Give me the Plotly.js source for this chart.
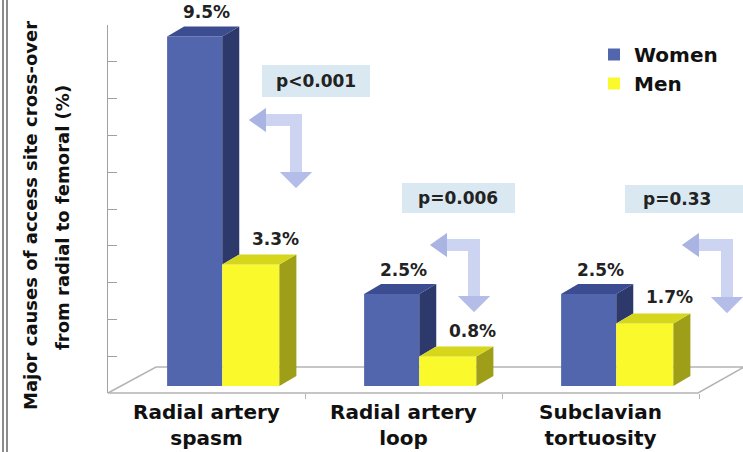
<!DOCTYPE html>
<html>
<head>
<meta charset="utf-8">
<script src="https://cdn.plot.ly/plotly-3.0.1.min.js"></script>
<style>
  html, body { margin: 0; padding: 0; background: #ffffff; }
  #chart { width: 743px; height: 452px; }
</style>
</head>
<body>
<div id="chart"></div>
<script>
// Causes of radial-to-femoral cross-over, by sex (%)
const categories = ['Radial artery<br>spasm', 'Radial artery<br>loop', 'Subclavian<br>tortuosity'];
const women = [9.5, 2.5, 2.5];
const men = [3.3, 0.8, 1.7];
const pValues = ['p&lt;0.001', 'p=0.006', 'p=0.33'];
const seriesNames = ['Women', 'Men'];
const wallTicks = [0, 1, 2, 3, 4, 5, 6, 7, 8, 9, 10];

// Plot-area geometry in pixels
const L = 108, T = 25, W = 591, H = 368, B = T + H;
const catPx = W / 3;              // pixels per category
const unitPx = 36.8;              // pixels per percentage point
const base0 = 386;                // pixel row of value 0 (bar fronts)
const wallShift = (B - base0) / unitPx;  // back wall sits lower than the bar fronts
const X = px => (px - L) / W;     // pixel -> paper
const Y = py => (B - py) / H;

// Fake 3-D extrusion (depth offset) in data units
const dx = 17 / catPx;
const dy = 10 / unitPx;

const FONT = 'DejaVu Sans';
const xs = categories.map((_, i) => i);
const wOff = -0.20, wW = 0.28;
const mOff = 0.08, mW = 0.29;

function buildFaces(list) {
  const x = [], y = [];
  list.forEach(p => { p.forEach(q => { x.push(q[0]); y.push(q[1]); }); x.push(null); y.push(null); });
  return { x, y };
}

// top faces
const womenTop = buildFaces(women.map((v, i) => {
  const x0 = i + wOff, x1 = x0 + wW;
  return [[x0, v], [x1, v], [x1 + dx, v + dy], [x0 + dx, v + dy]];
}));
const menTop = buildFaces(men.map((v, i) => {
  const x0 = i + mOff, x1 = x0 + mW;
  return [[x0, v], [x1, v], [x1 + dx, v + dy], [x0 + dx, v + dy]];
}));
// side faces (women side is hidden below the neighbouring men bar)
const womenSide = buildFaces(women.map((v, i) => {
  const x1 = i + wOff + wW, lo = Math.min(men[i], v);
  return [[x1, lo], [x1, v], [x1 + dx, v + dy], [x1 + dx, lo + dy]];
}));
const menSide = buildFaces(men.map((v, i) => {
  const x1 = i + mOff + mW;
  return [[x1, 0], [x1, v], [x1 + dx, v + dy], [x1 + dx, dy]];
}));

function face(f, color) {
  return { type: 'scatter', mode: 'lines', x: f.x, y: f.y, fill: 'toself', fillcolor: color,
           line: { width: 0 }, hoverinfo: 'skip', showlegend: false };
}

const traces = [
  { type: 'bar', name: seriesNames[0], x: xs, y: women, offset: wOff, width: wW,
    marker: { color: '#5266ae', line: { width: 0 } }, hoverinfo: 'skip' },
  { type: 'bar', name: seriesNames[1], x: xs, y: men, offset: mOff, width: mW,
    marker: { color: '#f9f92b', line: { width: 0 } }, hoverinfo: 'skip' },
  face(womenSide, '#2d396b'),
  face(womenTop, '#3c4c90'),
  face(menSide, '#9e9e18'),
  face(menTop, '#d6d61c')
];

// value labels above each bar
const annotations = [];
women.forEach((v, i) => annotations.push({
  xref: 'x', yref: 'y', x: i + wOff + wW / 2 + dx, y: v + dy, xshift: -5, yshift: 2,
  yanchor: 'bottom', text: v.toFixed(1) + '%', showarrow: false,
  font: { family: FONT, size: 17, weight: 'bold', color: '#222' }
}));
men.forEach((v, i) => annotations.push({
  xref: 'x', yref: 'y', x: i + mOff + mW / 2 + dx, y: v + dy, xshift: 8, yshift: 4,
  yanchor: 'bottom', text: v.toFixed(1) + '%', showarrow: false,
  font: { family: FONT, size: 17, weight: 'bold', color: '#222' }
}));

// y-axis title, two rotated lines
annotations.push({ xref: 'paper', yref: 'paper', x: X(30), y: Y(216), textangle: -90,
  text: 'Major causes of access site cross-over', showarrow: false,
  xanchor: 'center', yanchor: 'middle', font: { family: FONT, size: 18, weight: 'bold', color: '#111' } });
annotations.push({ xref: 'paper', yref: 'paper', x: X(63), y: Y(218), textangle: -90,
  text: 'from radial to femoral (%)', showarrow: false,
  xanchor: 'center', yanchor: 'middle', font: { family: FONT, size: 18, weight: 'bold', color: '#111' } });

// p-value boxes and bent arrows
const boxes = [
  { x0: 262, x1: 370, y0: 65, y1: 97, tx: 316, ty: 81 },
  { x0: 402, x1: 515, y0: 183, y1: 213, tx: 458, ty: 198 },
  { x0: 625, x1: 745, y0: 185, y1: 213, tx: 677, ty: 199 }
];
const arrows = [
  { tx: 249, ty: 120, R: 302, by: 188 },
  { tx: 430, ty: 245, R: 480, by: 312 },
  { tx: 682, ty: 245, R: 733, by: 313 }
];

const shapes = [];
// left frame double rule
[3, 7].forEach(px => shapes.push({ type: 'line', xref: 'paper', yref: 'paper',
  x0: X(px), x1: X(px), y0: Y(0), y1: Y(452), line: { color: '#8c8c8c', width: 2 } }));

// floor
const fl = [[108, 393], [698, 393], [744, 367], [156, 367]];
shapes.push({ type: 'path', xref: 'paper', yref: 'paper', layer: 'below',
  path: 'M' + fl.map(p => X(p[0]) + ',' + Y(p[1])).join(' L') + ' Z',
  fillcolor: '#ffffff', line: { color: '#b4b4b4', width: 1.5 } });

boxes.forEach((b, i) => {
  shapes.push({ type: 'rect', xref: 'paper', yref: 'paper', x0: X(b.x0), x1: X(b.x1),
    y0: Y(b.y1), y1: Y(b.y0), fillcolor: '#d9e8f1', line: { width: 0 } });
  annotations.push({ xref: 'paper', yref: 'paper', x: X(b.tx), y: Y(b.ty), text: pValues[i],
    showarrow: false, xanchor: 'center', yanchor: 'middle',
    font: { family: FONT, size: 17, weight: 'bold', color: '#222' } });
});

function pathOf(pts) { return 'M' + pts.map(p => X(p[0]) + ',' + Y(p[1])).join(' L') + ' Z'; }
arrows.forEach(a => {
  const c = a.R - 6;
  const body = [
    [a.tx, a.ty], [a.tx + 17, a.ty - 12], [a.tx + 17, a.ty - 6], [a.R, a.ty - 6],
    [a.R, a.by - 16], [c + 16, a.by - 16], [c, a.by], [c - 16, a.by - 16],
    [a.R - 12, a.by - 16], [a.R - 12, a.ty + 6], [a.tx + 17, a.ty + 6], [a.tx + 17, a.ty + 12]
  ];
  shapes.push({ type: 'path', xref: 'paper', yref: 'paper', path: pathOf(body),
    fillcolor: '#cdd4f1', line: { width: 0 } });
  shapes.push({ type: 'path', xref: 'paper', yref: 'paper',
    path: pathOf([[a.tx, a.ty], [a.tx + 17, a.ty - 12], [a.tx + 17, a.ty + 12]]),
    fillcolor: '#a9b4e2', line: { width: 0 } });
  shapes.push({ type: 'path', xref: 'paper', yref: 'paper',
    path: pathOf([[c + 16, a.by - 16], [c, a.by], [c - 16, a.by - 16]]),
    fillcolor: '#b3bde7', line: { width: 0 } });
});

const layout = {
  width: 743, height: 452,
  margin: { l: L, r: 743 - L - W, t: T, b: 452 - B, pad: 0 },
  paper_bgcolor: '#ffffff', plot_bgcolor: 'rgba(0,0,0,0)',
  barmode: 'overlay',
  showlegend: true,
  legend: { x: X(594), y: Y(35), xanchor: 'left', yanchor: 'top', bgcolor: 'rgba(0,0,0,0)',
    font: { family: FONT, size: 20, weight: 'bold', color: '#111' }, itemwidth: 30 },
  xaxis: {
    range: [-0.5, 2.5], tickmode: 'array', tickvals: xs, ticktext: categories,
    showline: false, showgrid: false, zeroline: false, ticks: '', ticklabelstandoff: 5,
    tickfont: { family: FONT, size: 20, weight: 'bold', color: '#111' },
    minor: { tickmode: 'array', tickvals: [0.5, 1.5, 2.5], ticks: 'outside', ticklen: 5,
             tickcolor: '#b4b4b4', showgrid: false }
  },
  yaxis: {
    range: [-wallShift, (base0 - T) / unitPx],
    tickmode: 'array', tickvals: wallTicks.map(k => k - wallShift),
    showline: true, linecolor: '#a0a0a0', linewidth: 1.5,
    ticks: 'inside', ticklen: 9, tickcolor: '#a0a0a0',
    showgrid: false, zeroline: false, showticklabels: false
  },
  shapes: shapes,
  annotations: annotations
};

Plotly.newPlot('chart', traces, layout, { displayModeBar: false, staticPlot: true });
</script>
</body>
</html>
